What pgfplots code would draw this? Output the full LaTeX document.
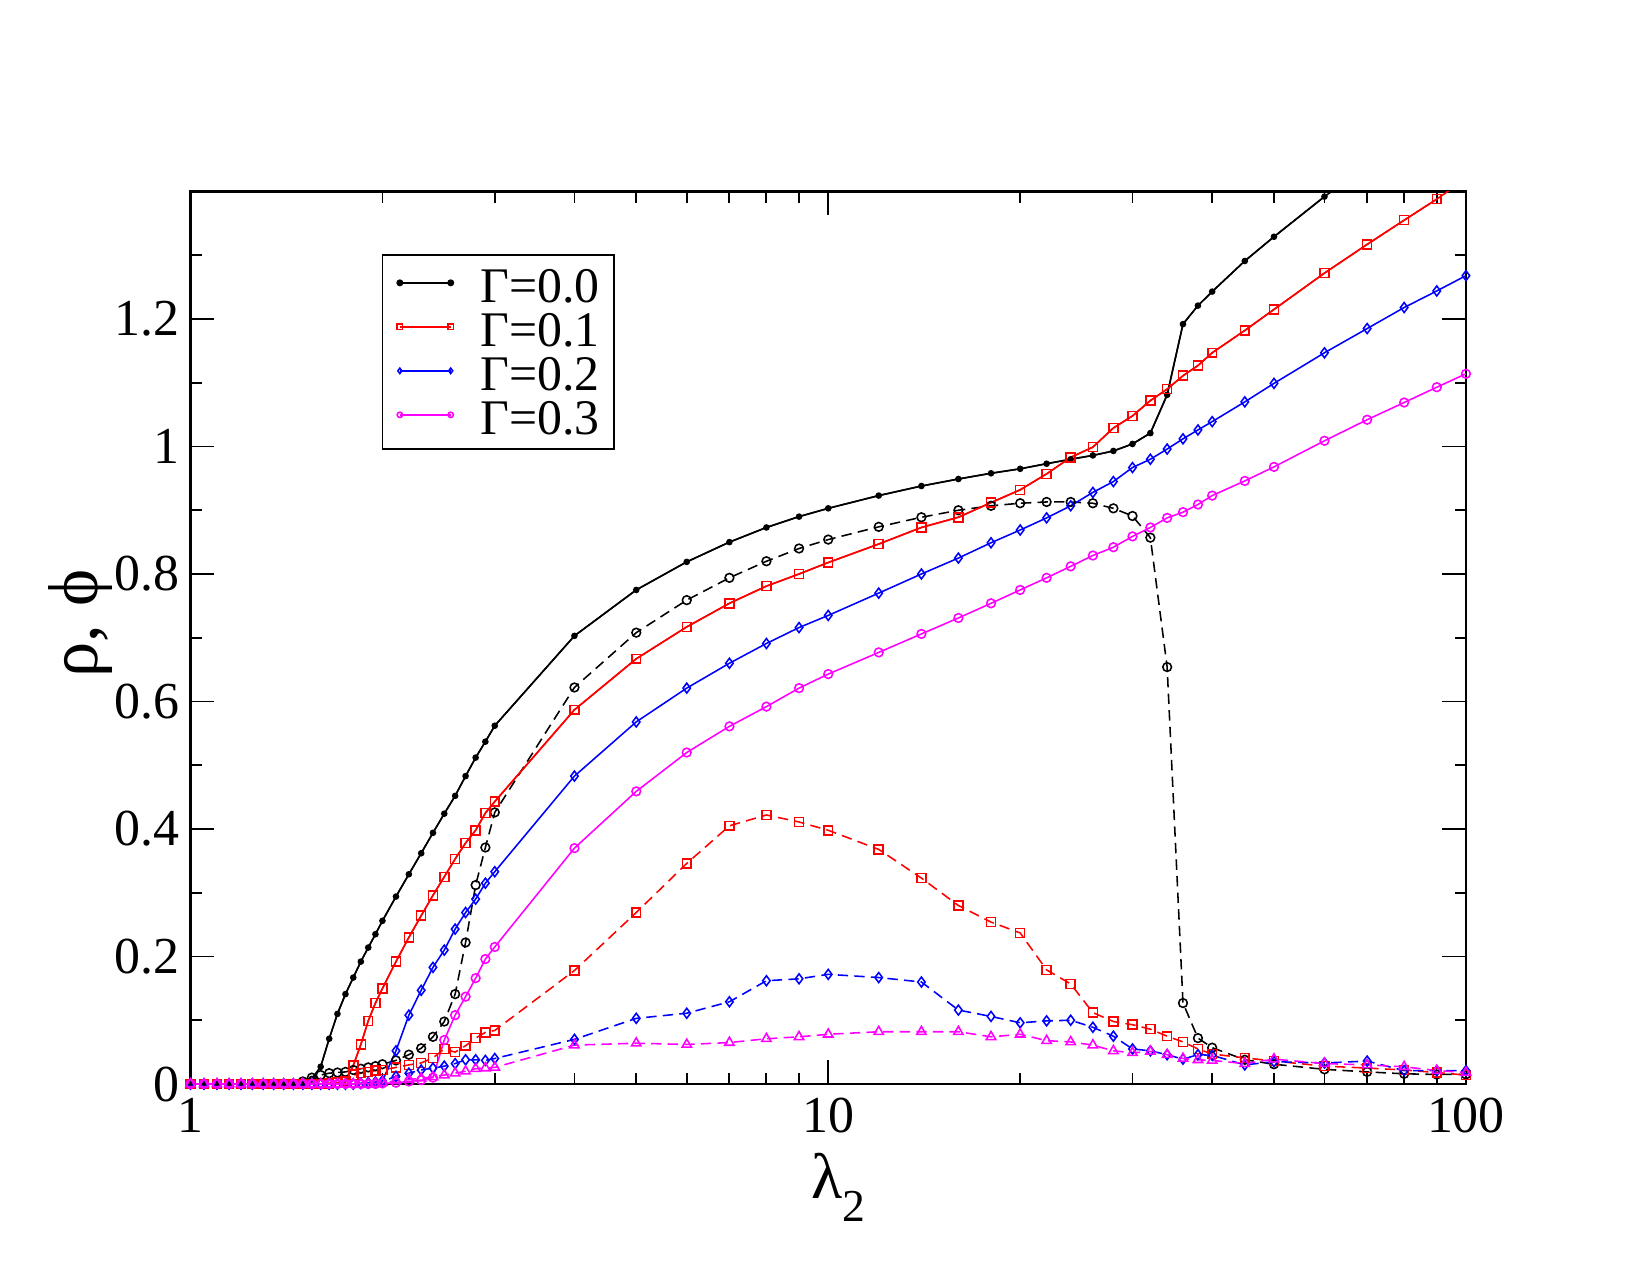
\documentclass[border=0pt]{standalone}
\usepackage{fontspec}
\setmainfont{Liberation Serif}
\usepackage{pgfplots}
\usepackage{pgfplotstable}
\pgfplotsset{compat=1.18}

% rho (r) and phi (p) for Gamma = 0.0, 0.1, 0.2, 0.3
\pgfplotstableread{
x    r0    p0    r1    p1    r2    p2    r3    p3
1.00 0     0     0     0     0     0     0     0
1.05 0     0     0     0     0     0     0     0
1.10 0     0     0     0     0     0     0     0
1.15 0     0     0     0     0     0     0     0
1.20 0     0     0     0     0     0     0     0
1.25 0     0     0     0     0     0     0     0
1.30 0     0     0     0     0     0     0     0
1.35 0     0     0     0     0     0     0     0
1.40 0     0     0     0     0     0     0     0
1.45 0     0     0     0     0     0     0     0
1.50 0.002 0.004 0     0     0     0     0     0
1.55 0.008 0.010 0     0     0     0     0     0
1.60 0.027 0.014 0     0     0     0     0     0
1.65 0.071 0.017 0.001 0.001 0     0     0     0
1.70 0.110 0.018 0.002 0.002 0     0     0     0
1.75 0.141 0.019 0.003 0.004 0     0     0     0
1.80 0.167 0.022 0.029 0.014 0     0     0     0
1.85 0.192 0.024 0.062 0.017 0.001 0.001 0     0
1.90 0.214 0.026 0.099 0.019 0.002 0.002 0     0
1.95 0.235 0.028 0.127 0.021 0.003 0.002 0     0.001
2.0  0.256 0.031 0.150 0.022 0.005 0.004 0.001 0.002
2.1  0.294 0.037 0.192 0.026 0.052 0.012 0.002 0.005
2.2  0.329 0.046 0.230 0.030 0.108 0.017 0.004 0.007
2.3  0.362 0.056 0.264 0.033 0.147 0.022 0.006 0.009
2.4  0.394 0.074 0.296 0.041 0.183 0.025 0.010 0.011
2.5  0.424 0.098 0.325 0.055 0.210 0.028 0.069 0.014
2.6  0.452 0.141 0.353 0.050 0.243 0.032 0.108 0.017
2.7  0.483 0.222 0.378 0.060 0.269 0.038 0.137 0.020
2.8  0.512 0.312 0.398 0.072 0.290 0.038 0.166 0.024
2.9  0.537 0.371 0.425 0.081 0.315 0.037 0.196 0.025
3.0  0.562 0.426 0.443 0.084 0.333 0.040 0.215 0.026
4    0.703 0.622 0.587 0.178 0.483 0.070 0.370 0.061
5    0.775 0.708 0.667 0.269 0.568 0.103 0.459 0.064
6    0.819 0.759 0.717 0.346 0.621 0.111 0.520 0.062
7    0.850 0.794 0.754 0.405 0.660 0.129 0.561 0.065
8    0.873 0.820 0.781 0.422 0.691 0.162 0.592 0.071
9    0.890 0.840 0.800 0.411 0.716 0.165 0.621 0.074
10   0.903 0.854 0.818 0.398 0.735 0.172 0.643 0.078
12   0.923 0.874 0.847 0.368 0.770 0.167 0.677 0.082
14   0.938 0.889 0.873 0.323 0.800 0.160 0.706 0.082
16   0.949 0.900 0.889 0.280 0.825 0.116 0.731 0.082
18   0.958 0.907 0.912 0.254 0.849 0.106 0.754 0.074
20   0.965 0.911 0.932 0.237 0.869 0.096 0.775 0.078
22   0.973 0.913 0.957 0.179 0.888 0.099 0.794 0.068
24   0.980 0.913 0.983 0.157 0.907 0.100 0.812 0.066
26   0.986 0.911 0.999 0.112 0.928 0.089 0.829 0.061
28   0.993 0.903 1.029 0.098 0.945 0.075 0.842 0.052
30   1.004 0.891 1.048 0.093 0.967 0.055 0.859 0.049
32   1.021 0.857 1.072 0.086 0.980 0.052 0.873 0.051
34   1.081 0.654 1.090 0.075 0.996 0.046 0.888 0.046
36   1.192 0.127 1.111 0.066 1.012 0.039 0.897 0.040
38   1.221 0.072 1.127 0.055 1.026 0.046 0.909 0.038
40   1.243 0.057 1.147 0.047 1.039 0.045 0.923 0.037
45   1.291 0.038 1.182 0.041 1.070 0.030 0.946 0.032
50   1.329 0.031 1.215 0.036 1.099 0.035 0.968 0.039
60   1.392 0.023 1.272 0.028 1.147 0.033 1.009 0.032
70   1.440 0.019 1.317 0.025 1.185 0.036 1.042 0.030
80   1.480 0.016 1.355 0.022 1.218 0.021 1.069 0.027
90   1.520 0.015 1.388 0.018 1.244 0.021 1.093 0.021
100  1.555 0.015 1.420 0.014 1.268 0.021 1.114 0.018
}\data

\definecolor{gred}{RGB}{255,0,0}
\definecolor{gblue}{RGB}{0,0,255}
\definecolor{gmag}{RGB}{255,0,255}

\begin{document}
\begin{tikzpicture}
\begin{axis}[
  at={(0,0)}, anchor=south west,
  scale only axis, width=8.503in, height=5.95in,
  xmode=log, xmin=1, xmax=100, ymin=0, ymax=1.4,
  xtick={1,10,100}, xticklabels={1,10,100},
  minor xtick={2,3,4,5,6,7,8,9,20,30,40,50,60,70,80,90},
  ytick={0,0.2,0.4,0.6,0.8,1.0,1.2},
  yticklabels={0,0.2,0.4,0.6,0.8,1,1.2},
  minor ytick={0.1,0.3,0.5,0.7,0.9,1.1,1.3},
  tick align=inside,
  major tick length=11.5pt, minor tick length=5.5pt,
  every tick/.style={black, line width=0.9pt},
  axis line style={line width=1.1pt},
  ticklabel style={font=\fontsize{25}{25}\selectfont, inner sep=0pt},
  yticklabel style={xshift=-5pt},
  xticklabel style={yshift=-6.5pt},
  xlabel={\fontsize{31}{31}\selectfont λ\raisebox{-0.8ex}{\fontsize{22}{22}\selectfont 2}},
  xlabel style={at={(axis description cs:0.508,0)}, anchor=north, yshift=-33pt, inner sep=0pt},
  ylabel={\fontsize{34}{34}\selectfont ρ, ϕ},
  ylabel style={at={(axis description cs:-0.086,0.516)}, anchor=center, inner sep=0pt},
  every axis plot/.append style={line width=0.75pt},
  legend style={
    at={(axis description cs:0.150,0.930)}, anchor=north west,
    draw=black, line width=0.8pt, fill=white,
    font=\fontsize{24}{24}\selectfont,
    inner xsep=7pt, inner ysep=7pt, row sep=5.2pt,
    nodes={inner sep=0pt, text height=16pt, text depth=0pt},
  },
  legend cell align=left,
  legend image code/.code={\draw[mark repeat=1, mark size=1.3pt] plot coordinates {(0pt,1.5pt) (24.5pt,1.5pt)};},
]
% tails of the rising curves that leave the frame, drawn without marks
\addplot[black, no markers, forget plot] table[x=x, y=r0] {\data};
\addplot[gred, no markers, forget plot] table[x=x, y=r1] {\data};

% Gamma = 0.0
\addplot[black, mark=*, mark size=1.2pt, mark options={solid},
  restrict y to domain=-1:1.4] table[x=x, y=r0] {\data};
\addlegendentry{\hspace*{13pt}Γ=0.0}
\addplot[black, dash pattern=on 5pt off 3pt, mark=o, mark size=2.1pt,
  mark options={solid}, forget plot] table[x=x, y=p0] {\data};

% Gamma = 0.1
\addplot[gred, mark=square, mark size=2.15pt, mark options={solid},
  restrict y to domain=-1:1.4] table[x=x, y=r1] {\data};
\addlegendentry{\hspace*{13pt}Γ=0.1}
\addplot[gred, dash pattern=on 5pt off 3pt, mark=square, mark size=2.15pt,
  mark options={solid}, forget plot] table[x=x, y=p1] {\data};

% Gamma = 0.2
\addplot[gblue, mark=diamond, mark size=2.4pt, mark options={solid}]
  table[x=x, y=r2] {\data};
\addlegendentry{\hspace*{13pt}Γ=0.2}
\addplot[gblue, dash pattern=on 5pt off 3pt, mark=diamond, mark size=2.4pt,
  mark options={solid}, forget plot] table[x=x, y=p2] {\data};

% Gamma = 0.3
\addplot[gmag, mark=o, mark size=2.1pt, mark options={solid}]
  table[x=x, y=r3] {\data};
\addlegendentry{\hspace*{13pt}Γ=0.3}
\addplot[gmag, dash pattern=on 5pt off 3pt, mark=triangle, mark size=2.6pt,
  mark options={solid}, forget plot] table[x=x, y=p3] {\data};
\end{axis}
\pgfresetboundingbox
\path[use as bounding box] (-1.27in,-1.2733in) rectangle (9.73in,7.2267in);
\end{tikzpicture}
\end{document}
